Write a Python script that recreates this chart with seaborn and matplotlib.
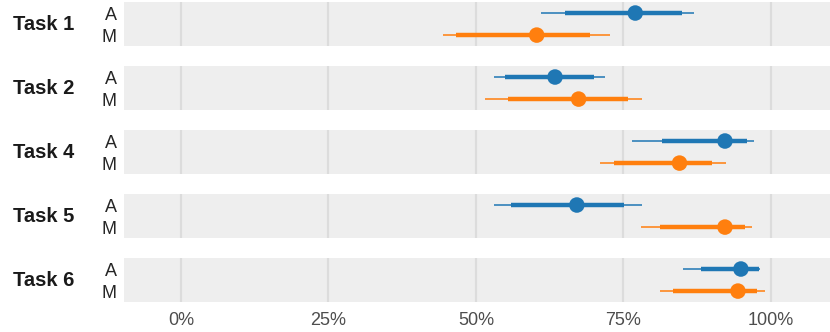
import pandas as pd
import matplotlib
matplotlib.use("Agg")
import matplotlib.pyplot as plt
from matplotlib.ticker import PercentFormatter
from matplotlib.transforms import blended_transform_factory
import seaborn as sns

# valores (em %)
tasks = ["Task 1", "Task 2", "Task 4", "Task 5", "Task 6"]
methods = ["A", "M"]

a_mid = [77.0, 63.4, 92.2, 67.1, 94.9]
a_lo50 = [65.1, 55.0, 81.5, 56.0, 88.1]
a_hi50 = [85.0, 70.0, 96.0, 75.1, 98.0]
a_lo95 = [61.1, 53.1, 76.5, 53.1, 85.1]
a_hi95 = [87.0, 71.9, 97.1, 78.1, 98.2]

m_mid = [60.3, 67.4, 84.5, 92.2, 94.4]
m_lo50 = [46.6, 55.4, 73.4, 81.2, 83.4]
m_hi50 = [69.4, 75.8, 90.0, 95.6, 97.7]
m_lo95 = [44.5, 51.6, 71.1, 77.9, 81.2]
m_hi95 = [72.7, 78.1, 92.3, 96.7, 98.9]

cores = {"A": "#1f77b4", "M": "#ff7f0e"}

df = pd.concat([
    pd.DataFrame({"task": tasks, "method": "A", "mid": a_mid,
                  "lo50": a_lo50, "hi50": a_hi50, "lo95": a_lo95, "hi95": a_hi95}),
    pd.DataFrame({"task": tasks, "method": "M", "mid": m_mid,
                  "lo50": m_lo50, "hi50": m_hi50, "lo95": m_lo95, "hi95": m_hi95}),
], ignore_index=True)
df["row"] = df["method"].map({m: i for i, m in enumerate(methods)})

sns.set_style("white")
plt.rcParams["font.family"] = ["Liberation Sans", "DejaVu Sans"]

fig, axes = plt.subplots(len(tasks), 1, figsize=(8.3, 3.32), dpi=100, sharex=True)
fig.subplots_adjust(left=0.149, right=1.0, top=0.994, bottom=0.090, hspace=0.45)

for ax, task in zip(axes, tasks):
    sub = df[df["task"] == task]
    ax.set_facecolor("#eeeeee")
    ax.grid(axis="x", color="#dcdcdc", linewidth=1.6)
    ax.grid(axis="y", visible=False)
    ax.set_axisbelow(True)
    for _, r in sub.iterrows():
        c = cores[r["method"]]
        ax.hlines(r["row"], r["lo95"], r["hi95"], color=c, linewidth=1.1, zorder=2)
        ax.hlines(r["row"], r["lo50"], r["hi50"], color=c, linewidth=3.2, zorder=3)
    sns.scatterplot(data=sub, x="mid", y="row", hue="method", palette=cores,
                    s=125, linewidth=0, legend=False, ax=ax, zorder=4)
    ax.set_ylim(1.5, -0.5)
    ax.set_yticks(range(len(methods)))
    ax.set_yticklabels(methods, fontsize=13)
    ax.tick_params(axis="y", length=0, pad=5)
    ax.set_xlim(-9.7, 110)
    ax.set_xticks([0, 25, 50, 75, 100])
    ax.xaxis.set_major_formatter(PercentFormatter(100, decimals=0))
    ax.tick_params(axis="x", length=0, pad=7, labelsize=13, labelcolor="#4d4d4d")
    ax.set_xlabel("")
    ax.set_ylabel("")
    sns.despine(ax=ax, left=True, bottom=True)
    trans = blended_transform_factory(fig.transFigure, ax.transAxes)
    ax.text(0.016, 0.5, task, transform=trans, ha="left", va="center",
            fontsize=14.5, fontweight="bold", color="#1a1a1a")

fig.savefig("out.png", dpi=100)
